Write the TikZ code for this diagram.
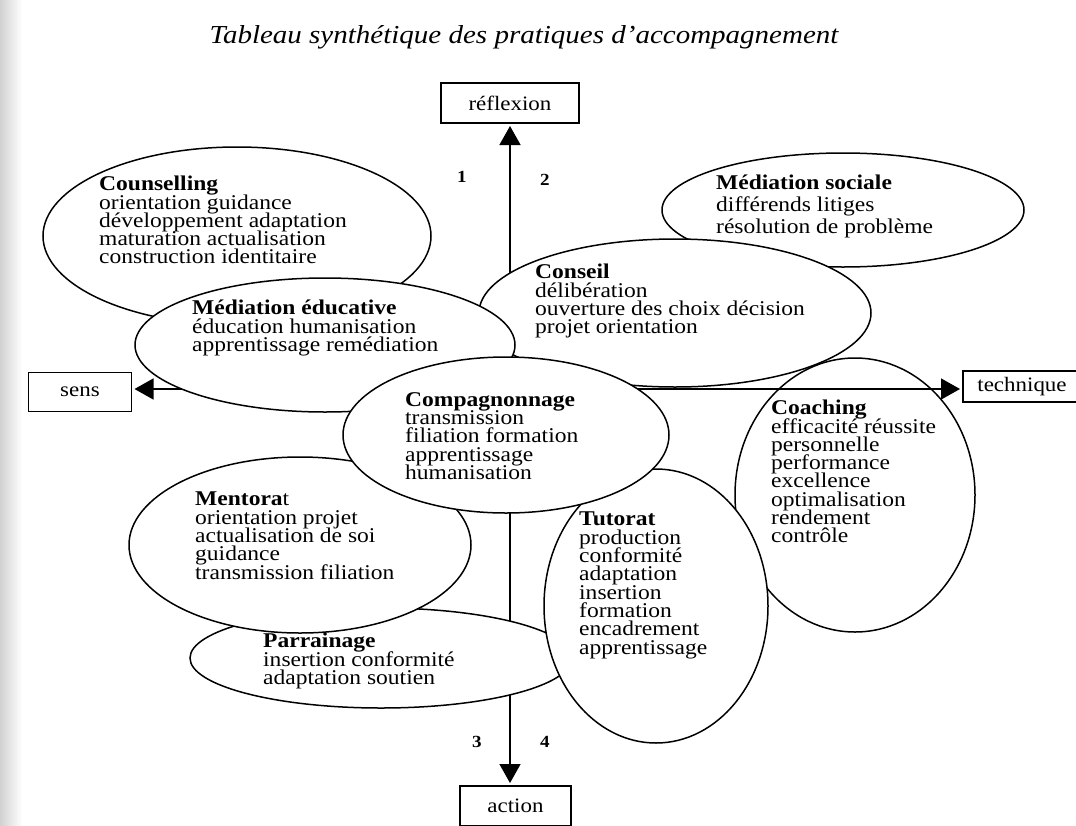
\documentclass[tikz,border=0pt]{standalone}
\usepackage{fontspec}
\setmainfont{Liberation Serif}[FakeStretch=1.12]
\usepackage{tikz}
\usetikzlibrary{shapes.geometric,arrows.meta}

\newcommand\serre{\lineskiplimit=-30pt\relax}

\tikzset{
	pratique/.style={ellipse, draw, fill=white, line width=1.5pt, inner sep=0pt},
	liste/.style={anchor=north west, align=left, inner sep=0pt, font=\fontsize{21}{18.3}\selectfont\serre},
	pole/.style={draw, line width=1.3pt, inner sep=0pt, outer sep=3pt, font=\fontsize{20.5}{24}\selectfont},
	axe/.style={line width=1.5pt, -{Triangle[length=19pt, width=21pt]}},
	chiffre/.style={font=\bfseries\fontsize{17}{20}\selectfont},
}

\begin{document}
\begin{tikzpicture}[x=1pt, y=-1pt]
	\useasboundingbox (0,0) rectangle (1076,825);
	\shade[left color=black!18, right color=white] (0,0) rectangle (22,825);
	
	\node[anchor=base, font=\itshape\fontsize{25.9}{30}\selectfont] (titre) at (524,43)
		{Tableau synthétique des pratiques d’accompagnement};
	
	% les quatre poles
	\node[pole, minimum width=138pt, minimum height=40pt] (reflexion) at (510,103) {réflexion};
	\node[pole, minimum width=103pt, minimum height=39pt] (sens) at (80,392) {sens};
	\node[pole, minimum width=118pt, minimum height=31pt, anchor=west] (technique) at (960,386.5) {technique};
	\node[pole, minimum width=111pt, minimum height=40pt] (action) at (515.5,806) {action};
	\coordinate (O) at (510,389);
	
	% ellipses du dessous
	\node[pratique, minimum width=388pt, minimum height=178pt] (counselling) at (237,236) {};
	\node[liste] (t-counselling) at (99,176) {\textbf{Counselling}\\orientation guidance\\développement adaptation\\maturation actualisation\\construction identitaire};
	\node[pratique, minimum width=362pt, minimum height=114pt] (sociale) at (843,210) {};
	\node[liste, font=\fontsize{21}{22}\selectfont\serre] (t-sociale) at (716,175) {\textbf{Médiation sociale}\\différends litiges\\résolution de problème};
	\node[pratique, minimum width=240pt, minimum height=274pt] (coaching) at (855,495) {};
	\node[liste] (t-coaching) at (771,400) {\textbf{Coaching}\\efficacité réussite\\personnelle\\performance\\excellence\\optimalisation\\rendement\\contrôle};
	
	% axes
	\draw[axe] (O) -- (O |- reflexion.south);
	\draw[axe] (O) -- (O |- action.north);
	\draw[axe] (O) -- (O -| sens.east);
	\draw[axe] (O) -- (O -| technique.west);
	
	\node[chiffre] (un) at (462,177) {1};
	\node[chiffre] (deux) at (545,180) {2};
	\node[chiffre] (trois) at (477,742) {3};
	\node[chiffre] (quatre) at (545,742) {4};
	
	% ellipses du dessus
	\node[pratique, minimum width=392pt, minimum height=148pt] (conseil) at (675,313) {};
	\node[liste] (t-conseil) at (535,264) {\textbf{Conseil}\\délibération\\ouverture des choix décision\\projet orientation};
	\node[pratique, minimum width=380pt, minimum height=134pt] (educative) at (325,345) {};
	\node[liste] (t-educative) at (192,300) {\textbf{Médiation éducative}\\éducation humanisation\\apprentissage remédiation};
	\node[pratique, minimum width=382pt, minimum height=100pt] (parrainage) at (381,658) {};
	\node[liste] (t-parrainage) at (263,633) {\textbf{Parrainage}\\insertion conformité\\adaptation soutien};
	\node[pratique, minimum width=224pt, minimum height=274pt] (tutorat) at (656,606) {};
	\node[liste] (t-tutorat) at (579,512) {\textbf{Tutorat}\\production\\conformité\\adaptation\\insertion\\formation\\encadrement\\apprentissage};
	\node[pratique, minimum width=342pt, minimum height=176pt] (mentorat) at (300,545) {};
	\node[liste] (t-mentorat) at (195,492) {\textbf{Mentora}t\\orientation projet\\actualisation de soi\\guidance\\transmission filiation};
	\node[pratique, minimum width=326pt, minimum height=156pt] (compagnonnage) at (506,435) {};
	\node[liste] (t-compagnonnage) at (405,392) {\textbf{Compagnonnage}\\transmission\\filiation formation\\apprentissage\\humanisation};
\end{tikzpicture}
\end{document}
